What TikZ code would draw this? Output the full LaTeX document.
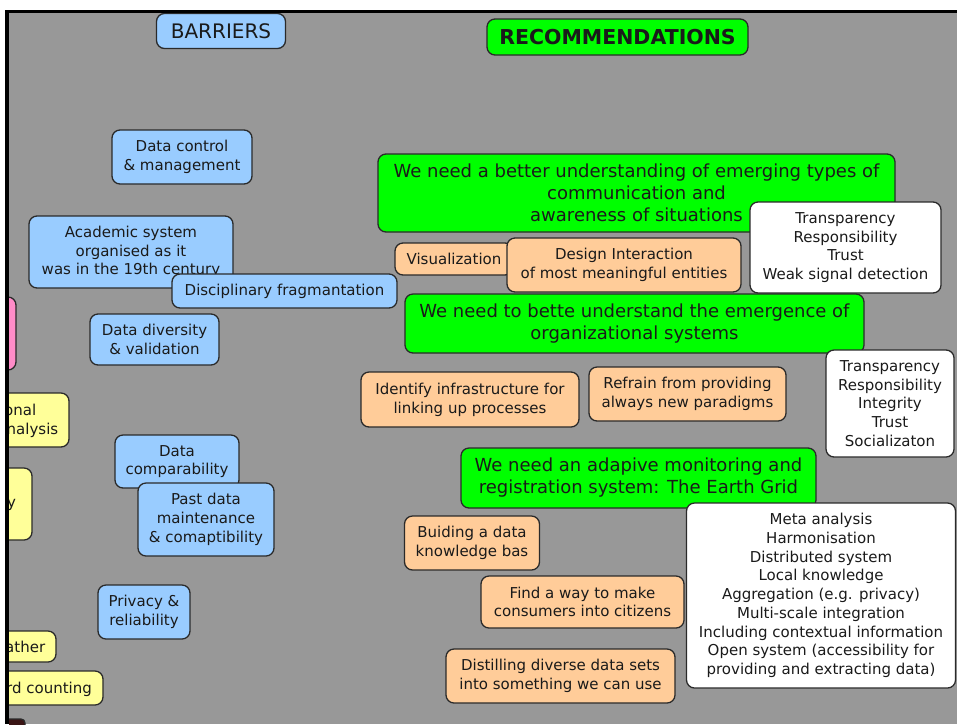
\documentclass[tikz,border=0pt]{standalone}
\usepackage{fontspec}
\setmainfont{DejaVu Sans}
\definecolor{bg}{HTML}{989898}
\definecolor{bl}{HTML}{99CCFF}
\definecolor{gr}{HTML}{00FF00}
\definecolor{org}{HTML}{FFCC99}
\definecolor{yel}{HTML}{FFFF99}
\definecolor{pnk}{HTML}{FF8CC8}
\definecolor{boxline}{HTML}{2A2A2A}
\definecolor{txt}{HTML}{1A1A1A}
\definecolor{darkbit}{HTML}{3A1414}
\begin{document}
\begin{tikzpicture}[x=1pt,y=-1pt,
  box/.style={draw=boxline, line width=1.3pt, rounded corners=8pt, inner sep=0pt, align=center, text=txt, font=\fontsize{15}{18.7}\selectfont},
  bluebox/.style={box, fill=bl},
  greenbox/.style={box, fill=gr, font=\fontsize{18}{22}\selectfont},
  orangebox/.style={box, fill=org},
  whitebox/.style={box, fill=white},
  yellowbox/.style={box, fill=yel},
  pinkbox/.style={box, fill=pnk},
  plain/.style={inner sep=0pt, text=txt, font=\fontsize{15}{18.7}\selectfont},
  bw/.style={minimum width=#1},
  bh/.style={minimum height=#1}]
\useasboundingbox (0,0) rectangle (957,724);
\fill[white] (0,0) rectangle (957,724);
\fill[bg] (5,10) rectangle (957,724);
\begin{scope}
\clip (9,13) rectangle (957,724);
% left edge boxes
\node[pinkbox, bw=50pt, bh=73pt] (pink) at (-9,333.5) {};
\node[yellowbox, bw=99pt, bh=54pt] (y1) at (19.5,420) {};
\node[plain, anchor=base west] (y1a) at (4,415) {onal};
\node[plain, anchor=base west] (y1b) at (6.5,434) {nalysis};
\node[yellowbox, bw=62pt, bh=72pt] (y2) at (1,504) {};
\node[plain, anchor=base west] (y2a) at (7,507) {y};
\node[yellowbox, bw=86pt, bh=31pt] (y3) at (13,646.5) {};
\node[plain, anchor=base west] (y3a) at (5,652) {ather};
\node[yellowbox, bw=133pt, bh=34pt] (y4) at (36.5,688) {};
\node[plain, anchor=base west] (y4a) at (6,693) {rd counting};
\node[box, fill=darkbit, bw=35pt, bh=22pt, rounded corners=4pt] (dk) at (7.5,730) {};
% barriers
\node[bluebox, bw=129pt, bh=35pt, font=\fontsize{20}{24}\selectfont] (barriers) at (221,31) {BARRIERS};
\node[bluebox, bw=140pt, bh=54pt] (dcm) at (182,157) {Data control\\\& management};
\node[bluebox, bw=204pt, bh=72pt] (acad) at (131,252) {Academic system\\organised as it\\was in the 19th century};
\node[bluebox, bw=225pt, bh=34pt] (disc) at (284.5,291) {Disciplinary fragmantation};
\node[bluebox, bw=129pt, bh=51pt] (div) at (154.5,339.5) {Data diversity\\\& validation};
\node[bluebox, bw=124pt, bh=53pt] (comp) at (177,461.5) {Data\\comparability};
\node[bluebox, bw=136pt, bh=73pt] (past) at (206,519.5) {Past data\\maintenance\\\& comaptibility};
\node[bluebox, bw=92pt, bh=54pt] (priv) at (144,612) {Privacy \&\\reliability};
% recommendations
\node[greenbox, bw=261pt, bh=36pt, font=\fontsize{20.5}{24}\selectfont\bfseries] (rec) at (617.5,37) {RECOMMENDATIONS};
\node[greenbox, bw=517pt, bh=78pt] (g1) at (636.5,193) {We need a better understanding of emerging types of\\communication and\\awareness of situations};
\node[whitebox, bw=191pt, bh=91pt] (w1) at (845.5,247.5) {Transparency\\Responsibility\\Trust\\Weak signal detection};
\node[orangebox, bw=118pt, bh=32pt] (vis) at (454,259) {Visualization};
\node[orangebox, bw=234pt, bh=54pt] (design) at (624,265) {Design Interaction\\of most meaningful entities};
\node[greenbox, bw=459pt, bh=59pt] (g2) at (634.5,323.5) {We need to bette understand the emergence of\\organizational systems};
\node[whitebox, bw=128pt, bh=107pt] (w2) at (890,403.5) {Transparency\\Responsibility\\Integrity\\Trust\\Socializaton};
\node[orangebox, bw=218pt, bh=55pt] (ident) at (470,399.5) {Identify infrastructure for\\linking up processes};
\node[orangebox, bw=197pt, bh=54pt] (refr) at (687.5,394) {Refrain from providing\\always new paradigms};
\node[greenbox, bw=355pt, bh=60pt] (g3) at (638.5,478) {We need an adapive monitoring and\\registration system: The Earth Grid};
\node[whitebox, bw=269pt, bh=185pt] (w3) at (821,595.5) {Meta analysis\\Harmonisation\\Distributed system\\Local knowledge\\Aggregation (e.g. privacy)\\Multi-scale integration\\Including contextual information\\Open system (accessibility for\\providing and extracting data)};
\node[orangebox, bw=135pt, bh=54pt] (build) at (472,543) {Buiding a data\\knowledge bas};
\node[orangebox, bw=203pt, bh=52pt] (find) at (582.5,602) {Find a way to make\\consumers into citizens};
\node[orangebox, bw=229pt, bh=54pt] (dist) at (560.5,676) {Distilling diverse data sets\\into something we can use};
\end{scope}
\fill[black] (5,10) rectangle (957,13);
\fill[black] (5,10) rectangle (9,724);
\end{tikzpicture}
\end{document}
